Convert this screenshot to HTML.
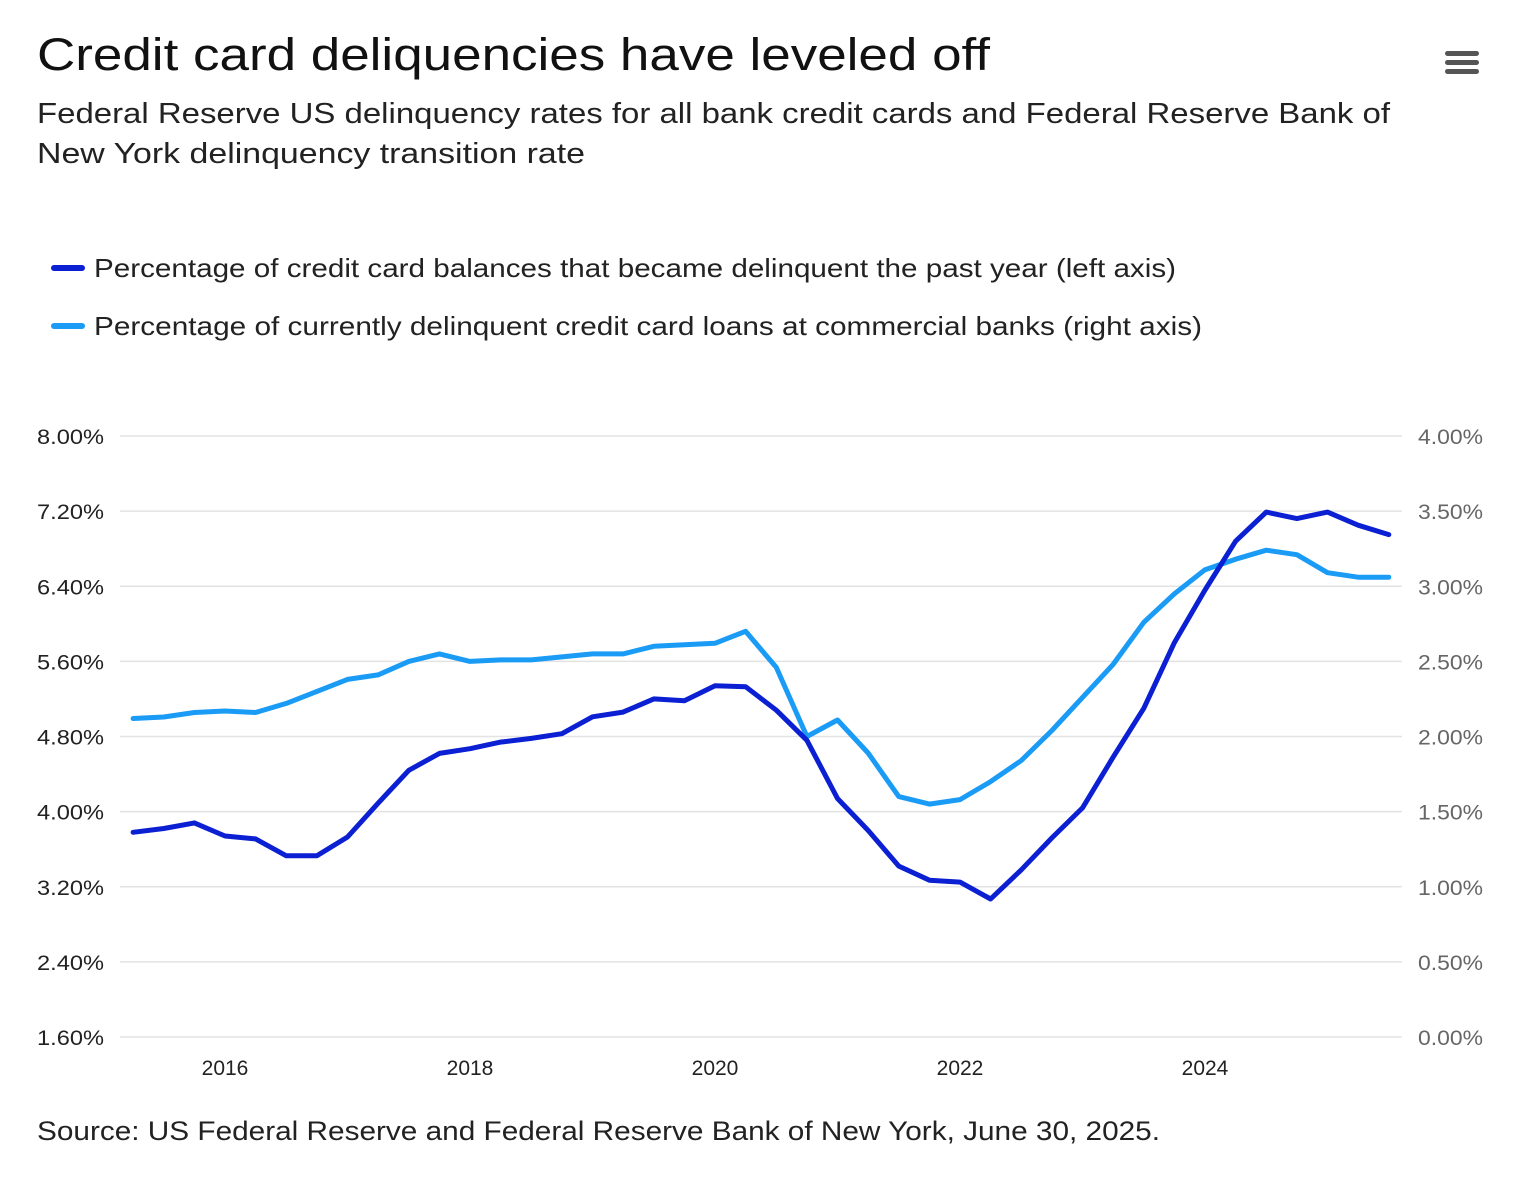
<!DOCTYPE html>
<html><head><meta charset="utf-8">
<style>
body{margin:0;background:#fff;font-family:"Liberation Sans",sans-serif;}
#wrap{position:relative;width:1532px;height:1194px;overflow:hidden;}
</style></head>
<body>
<div id="wrap">
<svg id="chart" width="1532" height="1194" xmlns="http://www.w3.org/2000/svg">
<text x="37" y="70" font-size="45" fill="#111" textLength="953" lengthAdjust="spacingAndGlyphs">Credit card deliquencies have leveled off</text>
<text x="37" y="123" font-size="29" fill="#222" textLength="1353" lengthAdjust="spacingAndGlyphs">Federal Reserve US delinquency rates for all bank credit cards and Federal Reserve Bank of</text>
<text x="37" y="163" font-size="29" fill="#222" textLength="548" lengthAdjust="spacingAndGlyphs">New York delinquency transition rate</text>
<g>
<rect x="1445" y="51" width="34" height="5" rx="2.5" fill="#555"/>
<rect x="1445" y="60" width="34" height="5" rx="2.5" fill="#555"/>
<rect x="1445" y="69" width="34" height="5" rx="2.5" fill="#555"/>
</g>
<g>
<line x1="54" y1="268" x2="82" y2="268" stroke="#0b1fd3" stroke-width="6" stroke-linecap="round"/>
<text x="94" y="277" font-size="26" fill="#222" textLength="1082" lengthAdjust="spacingAndGlyphs">Percentage of credit card balances that became delinquent the past year (left axis)</text>
</g>
<g>
<line x1="54" y1="326" x2="82" y2="326" stroke="#1a9bf6" stroke-width="6" stroke-linecap="round"/>
<text x="94" y="335" font-size="26" fill="#222" textLength="1108" lengthAdjust="spacingAndGlyphs">Percentage of currently delinquent credit card loans at commercial banks (right axis)</text>
</g>
<g id="grid"></g><g id="series"></g>
<text x="37" y="1140" font-size="27" fill="#222" textLength="1123" lengthAdjust="spacingAndGlyphs">Source: US Federal Reserve and Federal Reserve Bank of New York, June 30, 2025.</text>
</svg>
</div>
<script>
const leftTicks=[1.6,2.4,3.2,4.0,4.8,5.6,6.4,7.2,8.0];
const rightTicks=[0,0.5,1.0,1.5,2.0,2.5,3.0,3.5,4.0];
const yearTicks=[2016,2018,2020,2022,2024];
const startYear=2015.25;
const transitionRate=[3.78,3.82,3.88,3.74,3.71,3.53,3.53,3.73,4.09,4.44,4.62,4.67,4.74,4.78,4.83,5.01,5.06,5.20,5.18,5.34,5.33,5.08,4.76,4.14,3.80,3.42,3.27,3.25,3.07,3.38,3.72,4.04,4.58,5.10,5.80,6.36,6.88,7.19,7.12,7.19,7.05,6.95];
const bankRate=[2.12,2.13,2.16,2.17,2.16,2.22,2.30,2.38,2.41,2.50,2.55,2.50,2.51,2.51,2.53,2.55,2.55,2.60,2.61,2.62,2.70,2.46,2.00,2.11,1.89,1.60,1.55,1.58,1.70,1.84,2.04,2.26,2.48,2.76,2.95,3.11,3.18,3.24,3.21,3.09,3.06,3.06];
const NS="http://www.w3.org/2000/svg";
const plotTop=436,plotBot=1037;
const xs=t=>225+(t-2016)*122.5;
const yl=v=>plotBot-(v-1.6)/(8-1.6)*(plotBot-plotTop);
const yr=v=>plotBot-v/4*(plotBot-plotTop);
const grid=document.getElementById('grid'),series=document.getElementById('series');
function mk(tag,attrs,parent){const e=document.createElementNS(NS,tag);for(const k in attrs)e.setAttribute(k,attrs[k]);parent.appendChild(e);return e;}
leftTicks.forEach(v=>{
 const y=yl(v);
 const g=mk('line',{x1:120,x2:1402,y1:y,y2:y,stroke:'#e3e3e3','stroke-width':1.5},grid);
 
 
 const t=mk('text',{x:37,y:y+8,'font-size':21,fill:'#222',textLength:67,lengthAdjust:'spacingAndGlyphs'},grid);
 t.textContent=v.toFixed(2)+'%';
 
 
});
rightTicks.forEach(v=>{
 const t=mk('text',{x:1418,y:yr(v)+8,'font-size':21,fill:'#666',textLength:65,lengthAdjust:'spacingAndGlyphs'},grid);
 t.textContent=v.toFixed(2)+'%';
 
 
});
yearTicks.forEach(yv=>{
 const t=mk('text',{x:xs(yv),y:1075,'font-size':21,fill:'#222','text-anchor':'middle'},grid);
 t.textContent=yv;
 
 
});
function line(data,yf,color,name){
 const d=data.map((v,i)=>(i?'L':'M')+xs(startYear+i*0.25).toFixed(1)+','+yf(v).toFixed(1)).join(' ');
 const p=mk('path',{d:d,fill:'none',stroke:color,'stroke-width':5,'stroke-linejoin':'round','stroke-linecap':'round'},series);
 
 
}
line(bankRate,yr,'#1a9bf6','bank-delinquency-line');
line(transitionRate,yl,'#0b1fd3','transition-rate-line');
</script>
</body></html>
